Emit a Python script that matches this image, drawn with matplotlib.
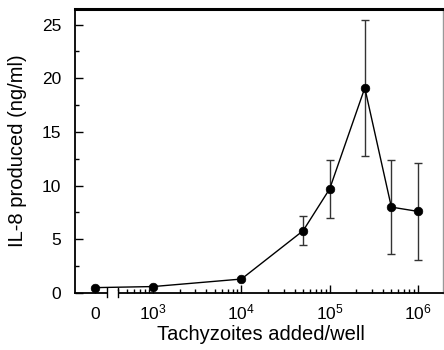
import numpy as np
import matplotlib
matplotlib.use("Agg")
import matplotlib.pyplot as plt
from matplotlib.ticker import FixedLocator, NullFormatter

plt.rcParams['font.family'] = ['Liberation Sans', 'DejaVu Sans']
plt.rcParams['mathtext.default'] = 'regular'

# data
tachyzoites = [0, 1e3, 1e4, 5e4, 1e5, 2.5e5, 5e5, 1e6]
il8 = [0.5, 0.6, 1.3, 5.8, 9.7, 19.1, 8.0, 7.6]
err_low = [0, 0, 0, 1.35, 2.7, 6.3, 4.35, 4.5]
err_high = [0, 0, 0, 1.35, 2.7, 6.3, 4.4, 4.5]
xtick_labels = ['0', '$10^{3}$', '$10^{4}$', '$10^{5}$', '$10^{6}$']
ytick_values = [0, 5, 10, 15, 20, 25]

ZERO_POS = 10 ** 2.34  # where "0" is placed on the broken log axis

x = np.array(tachyzoites, dtype=float)
xp = np.where(x == 0, ZERO_POS, x)
y = np.array(il8)
yerr = np.array([err_low, err_high])

fig = plt.figure(figsize=(4.44, 3.5), dpi=100)
ax = fig.add_axes([75/444, 1 - 293/350, 368/444, 284/350])
ax.set_xscale('log')
ax.set_xlim(10 ** 2.114, 10 ** 6.284)
ax.set_ylim(0, 26.45)

has_err = yerr.sum(axis=0) > 0
ax.plot(xp, y, color='black', lw=1.0, marker='o', ms=6.2, mew=0.5, mfc='black', mec='black', zorder=3)
ax.errorbar(xp[has_err], y[has_err], yerr=yerr[:, has_err], fmt='none',
            ecolor='#333333', elinewidth=1.0, capsize=3, capthick=1.0, zorder=2)

ax.xaxis.set_major_locator(FixedLocator([ZERO_POS, 1e3, 1e4, 1e5, 1e6]))
ax.set_xticklabels(xtick_labels)
for lbl in ax.get_xticklabels():
    lbl.set_va('baseline')
minor = [m * 10 ** d for d in range(2, 7) for m in range(2, 10)]
minor = [v for v in minor if 10 ** 2.6 <= v <= 10 ** 6.28]
ax.xaxis.set_minor_locator(FixedLocator(minor))
ax.xaxis.set_minor_formatter(NullFormatter())

ax.set_yticks(ytick_values)
ax.yaxis.set_minor_locator(FixedLocator(np.arange(2.5, 26, 5)))

ax.tick_params(which='major', direction='in', length=6, width=1.0, labelsize=12.5)
ax.tick_params(axis='x', which='major', pad=19)
ax.tick_params(axis='y', which='major', pad=10)
ax.tick_params(which='minor', direction='in', length=3, width=1.0)
ax.tick_params(axis='x', which='both', top=False)
ax.tick_params(axis='y', which='both', right=False)

ax.spines['top'].set_linewidth(2.2)
ax.spines['left'].set_linewidth(1.3)
ax.spines['bottom'].set_linewidth(1.3)
ax.spines['right'].set_color('#999999')
ax.spines['right'].set_linewidth(1.0)

# axis break
ax.plot([0.087, 0.117], [0, 0], transform=ax.transAxes, color='white', lw=3,
        clip_on=False, zorder=4, solid_capstyle='butt')
for bx in (0.087, 0.117):
    ax.plot([bx, bx], [-0.014, 0.018], transform=ax.transAxes, color='black', lw=1.0,
            clip_on=False, zorder=5)

ax.set_xlabel('Tachyzoites added/well', fontsize=14.5, va='baseline')
ax.set_ylabel('IL-8 produced (ng/ml)', fontsize=14.5)
ax.xaxis.set_label_coords(0.505, -0.165)
ax.yaxis.set_label_coords(-0.13, 0.5)

fig.savefig('out.png', dpi=100)
